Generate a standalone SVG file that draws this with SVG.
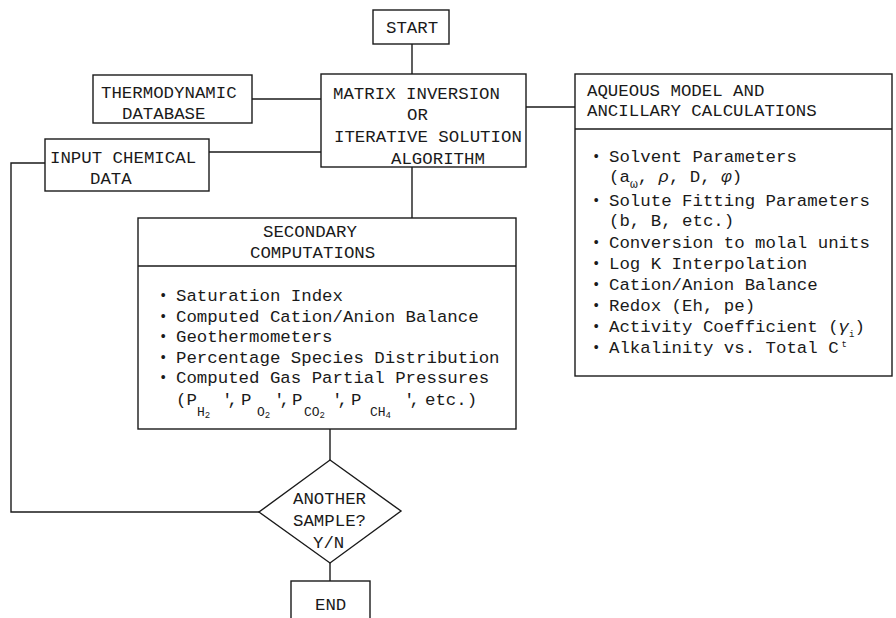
<svg xmlns="http://www.w3.org/2000/svg" width="896" height="618" viewBox="0 0 896 618">
<style>
.b{fill:#fff;stroke:#1a1a1a;stroke-width:1.4}
.c{fill:none;stroke:#1a1a1a;stroke-width:1.4}
text{font-family:"Liberation Mono","DejaVu Sans Mono",monospace;font-size:17.4px;fill:#1a1a1a}
.s{font-size:13px}
.ss{font-size:9px}
.bu{font-size:14px}
.g{font-style:italic}
.q{letter-spacing:-5px}
</style>
<rect width="896" height="618" fill="#fff"/>
<g id="connectors">
<path class="c" d="M412 44V74"/>
<path class="c" d="M252 99H321"/>
<path class="c" d="M209 152H321"/>
<path class="c" d="M45 163H11V512H259"/>
<path class="c" d="M526 107H575"/>
<path class="c" d="M412 167V218"/>
<path class="c" d="M330 429V460"/>
<path class="c" d="M330 563V581"/>
</g>
<g id="start">
<rect class="b" x="373" y="10" width="76" height="34"/>
<text x="386" y="33">START</text>
</g>
<g id="matrix">
<rect class="b" x="321" y="74" width="205" height="93"/>
<text x="333" y="99">MATRIX INVERSION</text>
<text x="407" y="120">OR</text>
<text x="334" y="142">ITERATIVE SOLUTION</text>
<text x="391" y="164">ALGORITHM</text>
</g>
<g id="thermo">
<rect class="b" x="93" y="75" width="159" height="48"/>
<text x="101" y="98">THERMODYNAMIC</text>
<text x="122" y="119">DATABASE</text>
</g>
<g id="input">
<rect class="b" x="45" y="139" width="164" height="52"/>
<text x="50" y="163">INPUT CHEMICAL</text>
<text x="90" y="184">DATA</text>
</g>
<g id="aqueous">
<rect class="b" x="575" y="74" width="317" height="302"/>
<path class="c" d="M575 129H892"/>
<text x="587" y="96">AQUEOUS MODEL AND</text>
<text x="587" y="116">ANCILLARY CALCULATIONS</text>
<text class="bu" x="592" y="161">•</text><text x="609" y="162">Solvent Parameters</text>
<text x="609" y="182">(a<tspan class="s" dy="6">ω</tspan><tspan dy="-6">, </tspan><tspan class="g">ρ</tspan>, D, <tspan class="g">φ</tspan>)</text>
<text class="bu" x="592" y="205">•</text><text x="609" y="206">Solute Fitting Parameters</text>
<text x="609" y="226">(b, B, etc.)</text>
<text class="bu" x="592" y="247">•</text><text x="609" y="248">Conversion to molal units</text>
<text class="bu" x="592" y="268">•</text><text x="609" y="269">Log K Interpolation</text>
<text class="bu" x="592" y="289">•</text><text x="609" y="290">Cation/Anion Balance</text>
<text class="bu" x="592" y="310">•</text><text x="609" y="311">Redox (Eh, pe)</text>
<text class="bu" x="592" y="331">•</text><text x="609" y="332">Activity Coefficient (<tspan class="g">γ</tspan><tspan class="ss" dy="5">i</tspan><tspan dy="-5">)</tspan></text>
<text class="bu" x="592" y="352">•</text><text x="609" y="353">Alkalinity vs. Total C<tspan class="ss" dx="3" dy="-6">t</tspan></text>
</g>
<g id="secondary">
<rect class="b" x="138" y="218" width="378" height="211"/>
<path class="c" d="M138 266H516"/>
<text x="263" y="237">SECONDARY</text>
<text x="250" y="258">COMPUTATIONS</text>
<text class="bu" x="159" y="300">•</text><text x="176" y="301">Saturation Index</text>
<text class="bu" x="159" y="321">•</text><text x="176" y="322">Computed Cation/Anion Balance</text>
<text class="bu" x="159" y="341">•</text><text x="176" y="342">Geothermometers</text>
<text class="bu" x="159" y="362">•</text><text x="176" y="363">Percentage Species Distribution</text>
<text class="bu" x="159" y="382">•</text><text x="176" y="383">Computed Gas Partial Pressures</text>
<text x="176" y="405">(P<tspan class="s" x="197" y="416">H</tspan><tspan class="ss" y="418">2</tspan><tspan class="q" x="222" y="405">',</tspan><tspan x="241">P</tspan><tspan class="s" x="257" y="416">O</tspan><tspan class="ss" y="418">2</tspan><tspan class="q" x="274" y="405">',</tspan><tspan x="292">P</tspan><tspan class="s" x="304" y="416">CO</tspan><tspan class="ss" y="418">2</tspan><tspan class="q" x="332" y="405">',</tspan><tspan x="351">P</tspan><tspan class="s" x="370" y="416">CH</tspan><tspan class="ss" y="418">4</tspan><tspan class="q" x="404" y="405">',</tspan><tspan x="425">etc.)</tspan></text>
</g>
<g id="decision">
<polygon class="b" points="330,460 401,511 330,563 259,512"/>
<text x="293" y="504">ANOTHER</text>
<text x="293" y="526">SAMPLE?</text>
<text x="313" y="548">Y/N</text>
</g>
<g id="end">
<rect class="b" x="291" y="581" width="79" height="40"/>
<text x="315" y="610">END</text>
</g>
</svg>
